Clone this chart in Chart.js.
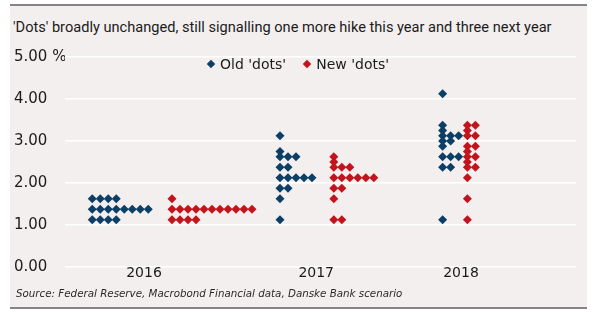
<!DOCTYPE html>
<html>
<head>
<meta charset="utf-8">
<script src="https://cdn.jsdelivr.net/npm/chart.js@4.4.1/dist/chart.umd.min.js"></script>
<style>
  body { margin: 0; background: #fff; width: 600px; height: 322px; overflow: hidden; position: relative; }
  #panel {
    position: absolute; left: 10px; top: 4px; width: 577px; height: 301px;
    background: #f4efef; border-top: 2px solid #858585; border-bottom: 2px solid #858585;
  }
  #title {
    position: absolute; left: 13px; top: 18px; font: 14.6px Roboto, sans-serif;
    line-height: 18px; color: #1b1b1b; white-space: nowrap;
  }
  #source {
    position: absolute; left: 16px; top: 287px; font: italic 10.3px "DejaVu Sans", sans-serif;
    line-height: 13px; color: #2a2a2a; white-space: nowrap;
  }
  #legend {
    position: absolute; left: 206px; top: 55px; display: flex; align-items: center;
    font: 14px "DejaVu Sans", sans-serif; color: #1b1b1b; line-height: 18px;
  }
  #legend .item { display: flex; align-items: center; margin-right: 16px; }
  #legend .mark { width: 6px; height: 6px; transform: rotate(45deg); margin: 0 6px 0 2px; }
  canvas { position: absolute; left: 0; top: 0; }
</style>
</head>
<body>
<div id="panel"></div>
<div id="title">'Dots' broadly unchanged, still signalling one more hike this year and three next year</div>
<canvas id="dotChart" width="600" height="322"></canvas>
<div id="legend"></div>
<div id="source">Source: Federal Reserve, Macrobond Financial data, Danske Bank scenario</div>
<script>
  // FOMC projections: [rate %, number of participants]
  const years = ['2016', '2017', '2018'];
  const old2016 = [[1.625, 4], [1.375, 8], [1.125, 4]];
  const new2016 = [[1.625, 1], [1.375, 11], [1.125, 4]];
  const old2017 = [[3.125, 1], [2.75, 1], [2.625, 3], [2.375, 2], [2.125, 5], [1.875, 2], [1.625, 1], [1.125, 1]];
  const new2017 = [[2.625, 1], [2.5, 1], [2.375, 3], [2.125, 6], [1.875, 2], [1.625, 1], [1.125, 2]];
  const old2018 = [[4.125, 1], [3.375, 1], [3.25, 1], [3.125, 3], [3, 2], [2.875, 1], [2.625, 3], [2.375, 2], [1.125, 1]];
  const new2018 = [[3.375, 2], [3.25, 1], [3.125, 2], [2.875, 2], [2.75, 1], [2.625, 2], [2.5, 1], [2.375, 2], [2.125, 1], [1.625, 1], [1.125, 1]];
  const yTicks = [0, 1, 2, 3, 4, 5];

  // x axis runs in "dot slots": one slot per participant dot
  const slotMax = 63.875;
  const yearTickAt = [9.875, 31.4, 49.5];
  const oldStart = [3.41, 26.875, 47.2];
  const newStart = [13.375, 33.6, 50.3];

  const blue = '#0b3f66';
  const red = '#c3141e';

  // spread dots of the same rate sideways from the group's start slot
  function spread(groups, starts) {
    const pts = [];
    groups.forEach((rows, g) => {
      rows.forEach(([rate, n]) => {
        for (let i = 0; i < n; i++) pts.push({ x: starts[g] + i, y: rate });
      });
    });
    return pts;
  }

  const oldDots = spread([old2016, old2017, old2018], oldStart);
  const newDots = spread([new2016, new2017, new2018], newStart);

  const chart = new Chart(document.getElementById('dotChart'), {
    type: 'scatter',
    data: {
      datasets: [
        { label: "Old 'dots'", data: oldDots, backgroundColor: blue, pointStyle: 'rectRot', pointRadius: 4.5, pointBorderWidth: 0 },
        { label: "New 'dots'", data: newDots, backgroundColor: red, pointStyle: 'rectRot', pointRadius: 4.5, pointBorderWidth: 0 }
      ]
    },
    options: {
      responsive: false,
      animation: false,
      events: [],
      layout: { padding: { left: 14, right: 24, top: 57, bottom: 35 } },
      plugins: { legend: { display: false }, tooltip: { enabled: false } },
      scales: {
        x: {
          type: 'linear', min: 0, max: slotMax,
          grid: { display: false, drawTicks: false },
          border: { display: false },
          afterBuildTicks: s => { s.ticks = yearTickAt.map(v => ({ value: v })); },
          afterFit: s => { s.height = 20; },
          ticks: {
            callback: (v, i) => years[i],
            maxRotation: 0, autoSkip: false, padding: -2,
            color: '#1b1b1b', font: { family: 'DejaVu Sans', size: 14 }
          }
        },
        y: {
          min: 0, max: 5,
          grid: { color: '#ffffff', lineWidth: 1.5, drawTicks: false },
          border: { display: false },
          afterBuildTicks: s => { s.ticks = yTicks.map(v => ({ value: v })); },
          afterFit: s => { s.width = 51; },
          ticks: {
            callback: v => v === 5 ? '5.00 %' : v.toFixed(2),
            crossAlign: 'far', padding: 0,
            color: '#1b1b1b', font: { family: 'DejaVu Sans', size: 15 }
          }
        }
      }
    }
  });

  // legend built from the datasets
  const legend = document.getElementById('legend');
  chart.data.datasets.forEach(ds => {
    const item = document.createElement('div');
    item.className = 'item';
    const mark = document.createElement('span');
    mark.className = 'mark';
    mark.style.background = ds.backgroundColor;
    item.appendChild(mark);
    item.appendChild(document.createTextNode(ds.label));
    legend.appendChild(item);
  });
</script>
</body>
</html>
